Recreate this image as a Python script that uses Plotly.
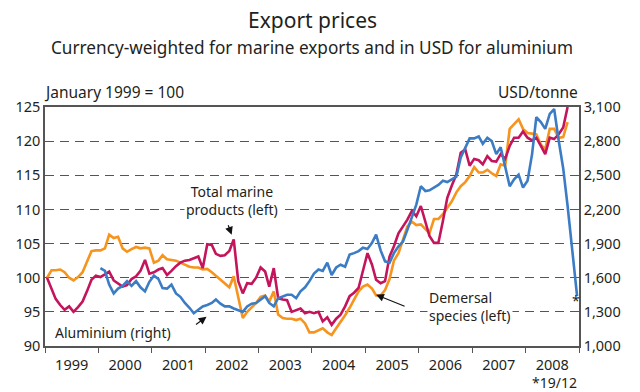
import plotly.graph_objects as go

# Monthly index values (January 1999 = 100), plotted mid-month, Jan 1999 - Oct 2008
total_marine = [
    100.0, 98.3, 96.9, 96.0, 95.3, 95.8, 95.0, 95.7, 96.5, 98.0, 99.7, 100.3,
    100.1, 100.5, 100.9, 99.6, 99.2, 98.7, 98.9, 99.8, 100.2, 101.0, 102.6, 100.6,
    100.8, 101.2, 101.4, 100.4, 101.0, 101.7, 102.2, 102.5, 102.6, 102.8, 103.1, 101.4,
    104.9, 104.8, 103.5, 103.2, 103.3, 103.9, 105.6, 99.5, 97.7, 99.2, 99.1, 100.0,
    101.5, 100.9, 98.7, 101.4, 97.0, 96.8, 96.7, 95.0, 95.2, 95.5, 94.8, 95.0,
    94.8, 95.0, 93.6, 94.2, 93.1, 94.0, 94.6, 95.8, 97.3, 97.8, 98.5, 101.2,
    103.6, 101.9, 99.7, 99.2, 99.5, 103.1, 104.6, 106.5, 107.5, 108.5, 109.8, 109.0,
    110.5, 108.0, 106.1, 105.1, 105.1, 108.3, 111.7, 113.5, 115.1, 118.3, 118.8, 116.4,
    117.4, 117.2, 116.6, 117.8, 117.1, 117.0, 118.1, 117.4, 119.3, 120.5, 120.5, 121.4,
    120.5, 120.1, 120.5, 119.3, 118.1, 120.5, 120.3, 121.0, 122.0, 125.0,
]

demersal = [
    100.0, 101.1, 101.1, 101.2, 100.8, 100.0, 99.6, 100.1, 100.8, 102.3, 103.9, 104.0,
    104.0, 104.3, 106.3, 105.8, 106.0, 104.3, 103.8, 104.2, 104.5, 104.3, 104.4, 104.3,
    102.2, 102.5, 103.3, 102.7, 102.6, 102.5, 102.2, 101.9, 101.6, 101.5, 101.5, 101.2,
    101.3, 100.8, 100.3, 99.7, 99.2, 98.6, 100.2, 97.0, 94.1, 95.0, 95.7, 96.3,
    97.2, 97.4, 96.5, 98.0, 94.6, 94.1, 94.0, 94.0, 93.8, 94.0, 93.3, 92.0,
    92.0, 92.3, 92.6, 92.0, 91.6, 92.6, 93.5, 94.5, 95.6, 96.8, 98.0, 98.7,
    99.0, 98.4, 97.4, 97.4, 98.2, 99.8, 102.5, 103.6, 105.5, 107.5, 108.2, 107.7,
    107.8, 107.1, 106.5, 108.6, 108.6, 109.3, 110.3, 111.2, 112.5, 113.4, 114.0, 114.9,
    116.2, 115.4, 115.4, 115.8, 115.3, 114.9, 116.6, 116.4, 121.8, 122.5, 123.2, 121.8,
    121.2, 121.1, 121.0, 119.5, 118.8, 121.8, 121.8, 120.5, 120.6, 122.8,
]

# Aluminium price, USD per tonne, Jan 2000 - Nov 2008 monthly, then 19 Dec 2008
aluminium_usd = [
    1684, 1660, 1540, 1462, 1504, 1528, 1570, 1528, 1570, 1516, 1480, 1564,
    1618, 1588, 1510, 1504, 1540, 1462, 1432, 1378, 1336, 1288, 1318, 1348,
    1360, 1378, 1408, 1372, 1348, 1348, 1330, 1318, 1300, 1348, 1372, 1378,
    1408, 1438, 1378, 1348, 1420, 1432, 1450, 1450, 1420, 1480, 1516, 1570,
    1636, 1672, 1660, 1732, 1624, 1690, 1714, 1696, 1804, 1816, 1834, 1864,
    1852, 1906, 1978, 1840, 1744, 1732, 1816, 1876, 1918, 2020, 2128, 2242,
    2404, 2362, 2368, 2392, 2416, 2452, 2440, 2464, 2488, 2656, 2746, 2824,
    2824, 2842, 2776, 2830, 2800, 2686, 2746, 2560, 2404, 2464, 2506, 2392,
    2452, 2686, 3010, 2968, 2908, 3040, 3082, 2806, 2560, 2230, 1870,
    1438,
]

left_ticks = [90, 95, 100, 105, 110, 115, 120, 125]
right_ticks = [1000, 1300, 1600, 1900, 2200, 2500, 2800, 3100]


def mid_month(k):
    return f"{1999 + k // 12}-{k % 12 + 1:02d}-15"


marine_dates = [mid_month(k) for k in range(len(total_marine))]
alu_dates = [mid_month(k) for k in range(12, 12 + len(aluminium_usd) - 1)] + ["2008-12-19"]

ORANGE = "#F7941D"
MAGENTA = "#C4145C"
BLUE = "#3B7CC4"
FONT = "Noto Sans"
TXT = "#231F20"
LBL = 14

fig = go.Figure()
fig.add_trace(go.Scatter(x=alu_dates, y=aluminium_usd, yaxis="y2", mode="lines",
                         line=dict(color=BLUE, width=2.6), name="Aluminium (right)"))
fig.add_trace(go.Scatter(x=marine_dates, y=demersal, mode="lines",
                         line=dict(color=ORANGE, width=2.6), name="Demersal species (left)"))
fig.add_trace(go.Scatter(x=marine_dates, y=total_marine, mode="lines",
                         line=dict(color=MAGENTA, width=2.6), name="Total marine products (left)"))

arrow = dict(showarrow=True, arrowhead=2, arrowsize=1.3, arrowwidth=1.2, arrowcolor="#111", text="")

annotations = [
    dict(text="Export prices", xref="paper", yref="paper", x=0.5, y=1.364, xanchor="center",
         yanchor="middle", showarrow=False, font=dict(size=21)),
    dict(text="Currency-weighted for marine exports and in USD for aluminium", xref="paper",
         yref="paper", x=0.5, y=1.247, xanchor="center", yanchor="middle", showarrow=False,
         font=dict(size=17.2)),
    dict(text="January 1999 = 100", xref="paper", yref="paper", x=0, y=1, xanchor="left",
         yanchor="bottom", xshift=-3, yshift=2, showarrow=False, font=dict(size=15.5)),
    dict(text="USD/tonne", xref="paper", yref="paper", x=1, y=1, xanchor="right",
         yanchor="bottom", xshift=1, yshift=2, showarrow=False, font=dict(size=15.5)),
    dict(text="Total marine<br>products (left)", x="2002-07-01", y=111.3, xanchor="center",
         yanchor="middle", showarrow=False, bgcolor="white", font=dict(size=LBL)),
    dict(x="2002-07-01", y=106.3, ax=-4, ay=-11, **arrow),
    dict(text="Aluminium (right)", x="1999-02-01", y=92.0, xanchor="left", xshift=3,
         yanchor="middle", showarrow=False, font=dict(size=LBL)),
    dict(x="2002-01-10", y=94.3, ax=-12, ay=9, **arrow),
    dict(text="Demersal<br>species (left)", x="2006-04-01", y=95.8, xanchor="left",
         xshift=-5, yanchor="middle", align="left", showarrow=False, bgcolor="white",
         font=dict(size=LBL)),
    dict(x="2005-03-15", y=97.5, ax=30, ay=12, **arrow),
    dict(text="*", x="2008-12-10", y=96.6, xanchor="center", yanchor="middle",
         showarrow=False, font=dict(size=14)),
    dict(text="*19/12", xref="paper", yref="paper", x=1, y=0, xanchor="right", yanchor="top",
         yshift=-25, showarrow=False, font=dict(size=14)),
]

fig.update_layout(
    width=640, height=392,
    margin=dict(l=45, r=61, t=107, b=46),
    paper_bgcolor="white", plot_bgcolor="white",
    font=dict(family=FONT, color=TXT, size=14),
    showlegend=False,
    xaxis=dict(
        type="date", range=["1999-01-01", "2009-01-01"],
        tick0="1999-01-01", dtick="M12", tickformat="%Y", ticklabelmode="period",
        ticks="outside", ticklen=5, tickcolor="#555", tickwidth=1.2,
        showline=True, linecolor="#555", linewidth=1.5, mirror=True,
        showgrid=False, tickfont=dict(size=14.5),
    ),
    yaxis=dict(
        range=[90, 125], tickvals=left_ticks, ticks="", showline=True, linecolor="#555",
        linewidth=1.5, showgrid=True, gridcolor="#555", gridwidth=1, griddash="9px,6px",
        tickfont=dict(size=14.5), zeroline=False,
    ),
    yaxis2=dict(
        range=[1000, 3100], tickvals=right_ticks, tickformat=",", overlaying="y", side="right",
        showline=True, linecolor="#555", linewidth=1.5, showgrid=False, zeroline=False,
        tickfont=dict(size=14.5),
    ),
    annotations=annotations,
)

fig.write_html("out.html")
